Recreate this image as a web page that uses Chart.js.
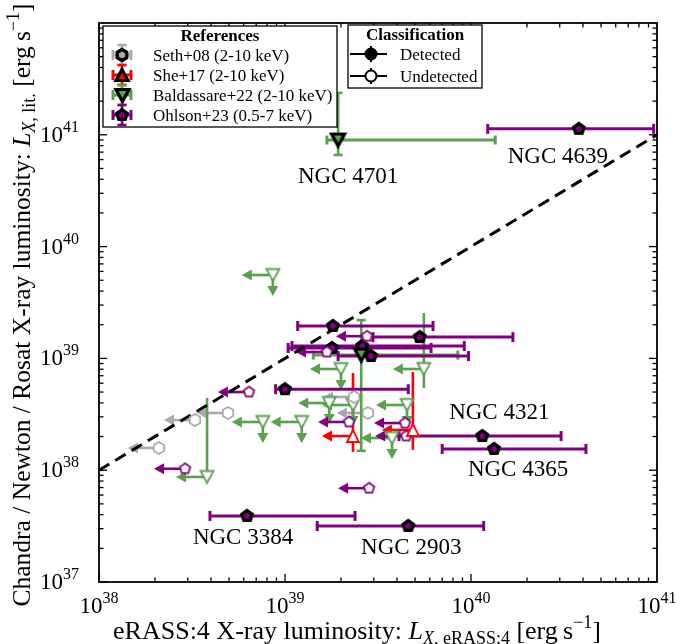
<!DOCTYPE html>
<html lang="en">
<head>
<meta charset="UTF-8">
<title>eRASS:4 vs literature X-ray luminosity</title>
<script src="https://cdn.jsdelivr.net/npm/chart.js@4.4.1/dist/chart.umd.min.js"></script>
<style>
  html, body { margin: 0; padding: 0; background: #fff; }
  .chart-wrapper { position: relative; width: 692px; height: 644px; }
</style>
</head>
<body>
<div class="chart-wrapper"><canvas id="lx-chart"></canvas></div>
<script>
// ---- data (erg/s) ----
const xRange = [1e38, 1e41];
const yRange = [1e37, 1e42];
const xTicks = [1e38, 1e39, 1e40, 1e41];
const xTickExp = ['38', '39', '40', '41'];
const yTicks = [1e37, 1e38, 1e39, 1e40, 1e41];
const yTickExp = ['37', '38', '39', '40', '41'];

// Seth+08, undetected in eRASS:4 (x upper limits)
const sethUndX = [3.28e38, 4.94e38, 2.10e38, 2.35e39, 2.79e39];
const sethUndY = [2.81e38, 3.25e38, 1.58e38, 4.52e38, 3.25e38];

// She+17, undetected
const sheUndX = [2.32e39, 4.87e39];
const sheUndY = [2.02e38, 2.29e38];
const sheUndYlo = [1.46e38, 1.52e38];
const sheUndYhi = [7.4e38, 7.55e38];

// Baldassare+22, detected
const balDetX = [1.93e39, 2.57e39];
const balDetY = [8.98e40, 1.07e39];
const balDetXlo = [1.68e39, 1.42e39];
const balDetXhi = [1.35e40, 8.5e39];
const balDetYlo = [6.6e40, 1.49e38];
const balDetYhi = [2.37e41, 2.2e39];

// Baldassare+22, undetected (y upper limit unless a y range is given)
const balUndX = [8.6e38, 2.0e39, 5.58e39, 1.73e39, 2.32e39, 4.53e39, 1.23e39, 7.6e38, 3.76e39, 3.81e38];
const balUndY = [5.57e39, 8.04e38, 8.04e38, 3.99e38, 3.83e38, 3.83e38, 2.70e38, 2.70e38, 1.94e38, 8.7e37];
const balUndYlo = [null, null, 5.43e38, null, null, null, null, null, null, 8.7e37];
const balUndYhi = [null, null, 2.55e39, null, null, null, null, null, null, 4.43e38];

// Ohlson+23, detected
const ohlDetX = [3.8e40, 1.81e39, 5.3e39, 1.79e39, 2.6e39, 2.9e39, 1.0e39, 1.15e40, 1.33e40, 6.25e38, 4.6e39];
const ohlDetY = [1.13e41, 1.95e39, 1.55e39, 1.24e39, 1.29e39, 1.05e39, 5.3e38, 2.02e38, 1.55e38, 3.9e37, 3.17e37];
const ohlDetXlo = [1.23e40, 1.17e39, 2.97e39, 1.04e39, 1.09e39, 1.93e39, 8.9e38, 4.1e39, 7.0e39, 3.95e38, 1.49e39];
const ohlDetXhi = [9.6e40, 6.25e39, 1.68e40, 6.1e39, 9.2e39, 9.7e39, 4.6e39, 3.05e40, 4.15e40, 2.38e39, 1.17e40];

// Ohlson+23, undetected
const ohlUndX = [2.76e39, 1.68e39, 6.4e38, 2.9e38, 2.21e39, 4.42e39, 4.48e39, 2.83e39];
const ohlUndY = [1.58e39, 1.14e39, 5.0e38, 1.03e38, 2.70e38, 2.64e38, 2.02e38, 6.9e37];

const galaxyNames = ['NGC 4639', 'NGC 4701', 'NGC 4321', 'NGC 4365', 'NGC 3384', 'NGC 2903'];
const refNames = ['Seth+08 (2-10 keV)', 'She+17 (2-10 keV)', 'Baldassare+22 (2-10 keV)', 'Ohlson+23 (0.5-7 keV)'];
const classNames = ['Detected', 'Undetected'];

// ---- style ----
const FONT = "'Liberation Serif', 'DejaVu Serif', serif";
const PURPLE = '#800080', GRAY = '#aaaaaa', RED = '#ff0000', GREEN = '#5aa04f';
const ARROW_X = 31, ARROW_Y = 21;

// point each name belongs to, and text offset from it (px)
const nameAnchors = [
    { xs: ohlDetX, ys: ohlDetY, i: 0, dx: -21, dy: 28 },
    { xs: balDetX, ys: balDetY, i: 0, dx: 10, dy: 37 },
    { xs: ohlDetX, ys: ohlDetY, i: 7, dx: 17, dy: -23 },
    { xs: ohlDetX, ys: ohlDetY, i: 8, dx: 24, dy: 21 },
    { xs: ohlDetX, ys: ohlDetY, i: 9, dx: -4, dy: 22 },
    { xs: ohlDetX, ys: ohlDetY, i: 10, dx: 3, dy: 22 }
];

function polyMarker(n, r, fill, stroke, lw) {
    const s = Math.ceil(2 * r + 2 * lw + 4);
    const c = document.createElement('canvas');
    c.width = s; c.height = s;
    const g = c.getContext('2d');
    g.beginPath();
    for (let k = 0; k < n; k++) {
        const a = -Math.PI / 2 + k * 2 * Math.PI / n;
        g.lineTo(s / 2 + r * Math.cos(a), s / 2 + r * Math.sin(a));
    }
    g.closePath();
    g.fillStyle = fill; g.fill();
    g.lineWidth = lw; g.strokeStyle = stroke; g.stroke();
    return c;
}

function triMarker(down, hw, hh, fill, stroke, lw) {
    const s = Math.ceil(2 * Math.max(hw, hh) + 3 * lw + 4);
    const c = document.createElement('canvas');
    c.width = s; c.height = s;
    const g = c.getContext('2d');
    const m = s / 2, k = down ? -1 : 1;
    g.beginPath();
    g.moveTo(m, m - k * hh);
    g.lineTo(m - hw, m + k * hh);
    g.lineTo(m + hw, m + k * hh);
    g.closePath();
    g.fillStyle = fill; g.fill();
    g.lineWidth = lw; g.strokeStyle = stroke; g.stroke();
    return c;
}

const mk = {
    ohlDet: polyMarker(5, 5.5, PURPLE, '#000', 3.3),
    ohlUnd: polyMarker(5, 5.5, '#fff', PURPLE, 1.8),
    sethDet: polyMarker(6, 5.5, GRAY, '#000', 3.3),
    sethUnd: polyMarker(6, 6, '#fff', GRAY, 1.8),
    sheDet: triMarker(false, 6, 5.5, RED, '#000', 3.2),
    sheUnd: triMarker(false, 6, 6, '#fff', RED, 1.8),
    balDet: triMarker(true, 6.5, 6, GREEN, '#000', 3.2),
    balUnd: triMarker(true, 6.5, 6, '#fff', GREEN, 1.8)
};

// ---- drawing helpers ----
function seg(ctx, x1, y1, x2, y2) {
    ctx.beginPath(); ctx.moveTo(x1, y1); ctx.lineTo(x2, y2); ctx.stroke();
}

function hbar(ctx, x1, x2, y, color, cap) {
    ctx.strokeStyle = color; ctx.lineWidth = 3;
    seg(ctx, x1, y, x2, y);
    if (cap) { seg(ctx, x1, y - cap, x1, y + cap); seg(ctx, x2, y - cap, x2, y + cap); }
}

function vbar(ctx, x, y1, y2, color, cap) {
    ctx.strokeStyle = color; ctx.lineWidth = 2.6;
    seg(ctx, x, y1, x, y2);
    if (cap) { seg(ctx, x - cap, y1, x + cap, y1); seg(ctx, x - cap, y2, x + cap, y2); }
}

function arrow(ctx, x0, y0, dx, dy, color) {
    const len = Math.hypot(dx, dy), ux = dx / len, uy = dy / len;
    const x1 = x0 + dx, y1 = y0 + dy, hl = 10, hw = 5.5;
    ctx.strokeStyle = color; ctx.lineWidth = 2.6;
    seg(ctx, x0, y0, x1 - ux * hl * 0.6, y1 - uy * hl * 0.6);
    ctx.fillStyle = color;
    ctx.beginPath();
    ctx.moveTo(x1, y1);
    ctx.lineTo(x1 - ux * hl - uy * hw, y1 - uy * hl + ux * hw);
    ctx.lineTo(x1 - ux * hl + uy * hw, y1 - uy * hl - ux * hw);
    ctx.closePath(); ctx.fill();
}

// parts: [text, size, italic, baseline shift]
function rich(ctx, parts, x, y, align) {
    let w = 0;
    parts.forEach(p => { ctx.font = (p[2] ? 'italic ' : '') + p[1] + 'px ' + FONT; w += ctx.measureText(p[0]).width; });
    let cx = align === 'center' ? x - w / 2 : align === 'right' ? x - w : x;
    ctx.textAlign = 'left'; ctx.textBaseline = 'alphabetic';
    parts.forEach(p => {
        ctx.font = (p[2] ? 'italic ' : '') + p[1] + 'px ' + FONT;
        ctx.fillText(p[0], cx, y + (p[3] || 0));
        cx += ctx.measureText(p[0]).width;
    });
}

function stamp(ctx, img, x, y) {
    ctx.drawImage(img, Math.round(x - img.width / 2), Math.round(y - img.height / 2));
}

const overlay = {
    id: 'overlay',
    beforeDatasetsDraw(chart) {
        const { ctx, chartArea: a } = chart;
        const X = v => chart.scales.x.getPixelForValue(v);
        const Y = v => chart.scales.y.getPixelForValue(v);
        ctx.save();
        ctx.beginPath(); ctx.rect(a.left, a.top, a.width, a.height); ctx.clip();
        ctx.lineCap = 'butt';

        sethUndX.forEach((v, i) => arrow(ctx, X(v), Y(sethUndY[i]), -ARROW_X, 0, GRAY));

        sheUndX.forEach((v, i) => {
            vbar(ctx, X(v), Y(sheUndYlo[i]), Y(sheUndYhi[i]), RED, 0);
            arrow(ctx, X(v), Y(sheUndY[i]), -ARROW_X, 0, RED);
        });

        balUndX.forEach((v, i) => {
            const px = X(v), py = Y(balUndY[i]);
            arrow(ctx, px, py, -ARROW_X, 0, GREEN);
            if (balUndYhi[i] !== null) vbar(ctx, px, Y(balUndYlo[i]), Y(balUndYhi[i]), GREEN, 0);
            else arrow(ctx, px, py, 0, ARROW_Y, GREEN);
        });

        balDetX.forEach((v, i) => {
            hbar(ctx, X(balDetXlo[i]), X(balDetXhi[i]), Y(balDetY[i]), GREEN, 4.5);
            vbar(ctx, X(v), Y(balDetYlo[i]), Y(balDetYhi[i]), GREEN, 4.5);
        });

        ohlUndX.forEach((v, i) => arrow(ctx, X(v), Y(ohlUndY[i]), -ARROW_X, 0, PURPLE));

        ohlDetX.forEach((v, i) => hbar(ctx, X(ohlDetXlo[i]), X(ohlDetXhi[i]), Y(ohlDetY[i]), PURPLE, 5));

        // one-to-one line
        ctx.strokeStyle = '#000'; ctx.lineWidth = 3; ctx.setLineDash([12, 7]);
        seg(ctx, X(xRange[0]), Y(xRange[0]), X(xRange[1]), Y(xRange[1]));
        ctx.setLineDash([]);
        ctx.restore();
    },
    afterDraw(chart) {
        const { ctx, chartArea: a } = chart;
        const X = v => chart.scales.x.getPixelForValue(v);
        const Y = v => chart.scales.y.getPixelForValue(v);
        ctx.save();
        ctx.fillStyle = '#000'; ctx.strokeStyle = '#000';

        // inward ticks on all sides
        ctx.lineWidth = 1.3;
        for (let e = 38; e < 41; e++) for (let m = 1; m <= 9; m++) {
            const p = X(m * Math.pow(10, e)), L = m === 1 ? 8 : 4.5;
            seg(ctx, p, a.bottom, p, a.bottom - L); seg(ctx, p, a.top, p, a.top + L);
        }
        for (let e = 37; e < 42; e++) for (let m = 1; m <= 9; m++) {
            const p = Y(m * Math.pow(10, e)), L = m === 1 ? 8 : 4.5;
            seg(ctx, a.left, p, a.left + L, p); seg(ctx, a.right, p, a.right - L, p);
        }
        ctx.lineWidth = 1.8;
        ctx.strokeRect(a.left, a.top, a.width, a.height);

        xTicks.forEach((v, i) => rich(ctx, [['10', 23], [xTickExp[i], 16, false, -10]], X(v), 613, 'center'));
        yTicks.forEach((v, i) => rich(ctx, [['10', 23], [yTickExp[i], 16, false, -10]], 79, Y(v) + 7, 'right'));

        rich(ctx, [['eRASS:4 X-ray luminosity: ', 26], ['L', 26, true], ['X', 18, true, 5], [', eRASS:4', 18, false, 5],
            [' [erg\u2009s', 26], ['\u22121', 18, false, -11], [']', 26]], 357, 639, 'center');

        ctx.save();
        ctx.translate(30, 305); ctx.rotate(-Math.PI / 2);
        rich(ctx, [['Chandra / Newton / Rosat X-ray luminosity: ', 25.5], ['L', 25.5, true], ['X', 18, true, 5], [', lit.', 18, false, 5],
            [' [erg\u2009s', 25.5], ['\u22121', 18, false, -11], [']', 25.5]], 0, 0, 'center');
        ctx.restore();

        // galaxy names
        ctx.font = '23px ' + FONT; ctx.textAlign = 'center'; ctx.textBaseline = 'middle';
        nameAnchors.forEach((n, k) => ctx.fillText(galaxyNames[k], X(n.xs[n.i]) + n.dx, Y(n.ys[n.i]) + n.dy));

        // legend: references
        ctx.lineWidth = 1.3; ctx.fillStyle = '#fff';
        ctx.fillRect(103, 26, 234, 101); ctx.strokeRect(103, 26, 234, 101);
        ctx.fillStyle = '#000';
        ctx.font = 'bold 17px ' + FONT; ctx.textAlign = 'center'; ctx.textBaseline = 'alphabetic';
        ctx.fillText('References', 220, 41);
        const refCols = [GRAY, RED, GREEN, PURPLE];
        const refMk = [mk.sethDet, mk.sheDet, mk.balDet, mk.ohlDet];
        refNames.forEach((t, k) => {
            const cy = 55 + 20 * k, cx = 122;
            hbar(ctx, cx - 9, cx + 9, cy, refCols[k], 5);
            vbar(ctx, cx, cy - 10, cy + 10, refCols[k], 4.5);
            stamp(ctx, refMk[k], cx, cy);
            ctx.fillStyle = '#000'; ctx.font = '17px ' + FONT; ctx.textAlign = 'left';
            ctx.fillText(t, 153, cy + 6);
        });

        // legend: classification
        ctx.lineWidth = 1.3; ctx.fillStyle = '#fff'; ctx.strokeStyle = '#000';
        ctx.fillRect(348, 25, 134, 63); ctx.strokeRect(348, 25, 134, 63);
        ctx.fillStyle = '#000';
        ctx.font = 'bold 17px ' + FONT; ctx.textAlign = 'center';
        ctx.fillText('Classification', 415, 40);
        classNames.forEach((t, k) => {
            const cy = 54 + 22 * k, cx = 371;
            ctx.strokeStyle = '#000'; ctx.lineWidth = 2;
            seg(ctx, 350, cy, 387, cy); seg(ctx, cx, cy - 8, cx, cy + 8);
            ctx.beginPath(); ctx.arc(cx, cy, 5.5, 0, 2 * Math.PI);
            ctx.fillStyle = k === 0 ? '#000' : '#fff'; ctx.fill(); ctx.stroke();
            ctx.fillStyle = '#000'; ctx.font = '17px ' + FONT; ctx.textAlign = 'left';
            ctx.fillText(t, 400, cy + 6);
        });
        ctx.restore();
    }
};

function pts(xs, ys) { return xs.map((v, i) => ({ x: v, y: ys[i] })); }

new Chart(document.getElementById('lx-chart'), {
    type: 'scatter',
    data: {
        datasets: [
            { label: 'Seth+08 undetected', data: pts(sethUndX, sethUndY), pointStyle: mk.sethUnd },
            { label: 'She+17 undetected', data: pts(sheUndX, sheUndY), pointStyle: mk.sheUnd },
            { label: 'Baldassare+22 undetected', data: pts(balUndX, balUndY), pointStyle: mk.balUnd },
            { label: 'Baldassare+22 detected', data: pts(balDetX, balDetY), pointStyle: mk.balDet },
            { label: 'Ohlson+23 undetected', data: pts(ohlUndX, ohlUndY), pointStyle: mk.ohlUnd },
            { label: 'Ohlson+23 detected', data: pts(ohlDetX, ohlDetY), pointStyle: mk.ohlDet }
        ]
    },
    options: {
        responsive: true,
        maintainAspectRatio: false,
        animation: false,
        layout: { padding: { left: 99, right: 35, top: 23, bottom: 62 } },
        plugins: { legend: { display: false }, tooltip: { enabled: false } },
        scales: {
            x: { type: 'logarithmic', min: xRange[0], max: xRange[1], display: false },
            y: { type: 'logarithmic', min: yRange[0], max: yRange[1], display: false }
        }
    },
    plugins: [overlay]
});
</script>
</body>
</html>
